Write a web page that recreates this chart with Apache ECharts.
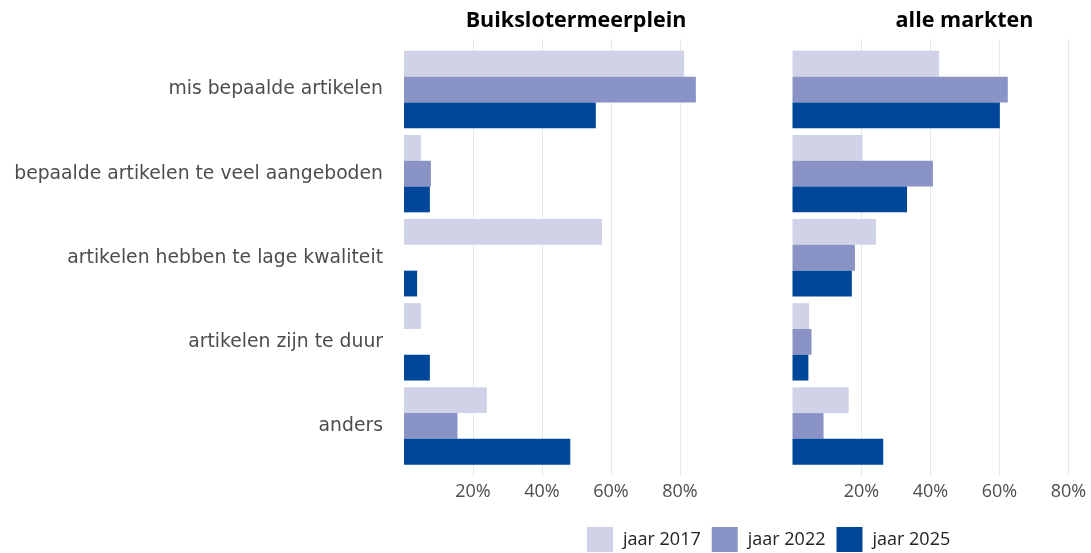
<!DOCTYPE html>
<html>
<head>
<meta charset="utf-8">
<script src="https://cdn.jsdelivr.net/npm/echarts@6/dist/echarts.min.js"></script>
<style>
  html, body { margin: 0; padding: 0; background: #fff; }
  #chart { width: 1091px; height: 553px; }
</style>
</head>
<body>
<div id="chart"></div>
<script>
  const categories = [
    "mis bepaalde artikelen",
    "bepaalde artikelen te veel aangeboden",
    "artikelen hebben te lage kwaliteit",
    "artikelen zijn te duur",
    "anders",
  ];
  const years = ["jaar 2017", "jaar 2022", "jaar 2025"];
  const panelTitles = ["Buikslotermeerplein", "alle markten"];

  // percentages, Buikslotermeerplein
  const buik2017 = [81.2, 4.9, 57.4, 4.9, 24.0];
  const buik2022 = [84.6, 7.8, 0, 0, 15.5];
  const buik2025 = [55.6, 7.5, 3.8, 7.5, 48.2];

  // percentages, alle markten
  const alle2017 = [42.5, 20.3, 24.2, 4.8, 16.3];
  const alle2022 = [62.4, 40.7, 18.1, 5.5, 9.0];
  const alle2025 = [60.1, 33.2, 17.2, 4.6, 26.3];

  const COLORS = ["#d0d3e8", "#8a93c6", "#004699"];
  const FONT = "Open Sans";
  const AXIS_MAX = 86;

  const panels = [
    { left: 404, values: [buik2017, buik2022, buik2025] },
    { left: 792.5, values: [alle2017, alle2022, alle2025] },
  ];
  const plotWidth = AXIS_MAX * 3.45;

  const grid = [];
  const xAxis = [];
  const yAxis = [];
  const series = [];

  panels.forEach((panel, p) => {
    // bar grid
    grid.push({ left: panel.left, top: 47.5, width: plotWidth, height: 420.5 });
    xAxis.push({ gridIndex: p, type: "value", min: 0, max: AXIS_MAX, show: false });
    yAxis.push({
      gridIndex: p,
      type: "category",
      inverse: true,
      data: categories,
      axisLine: { show: false },
      axisTick: { show: false },
      axisLabel: {
        show: p === 0,
        margin: 21,
        fontFamily: "DejaVu Sans",
        fontSize: 18.8,
        color: "#4d4d4d",
      },
    });
    panel.values.forEach((vals, i) => {
      series.push({
        name: years[i],
        type: "bar",
        xAxisIndex: p,
        yAxisIndex: p,
        data: vals,
        barGap: "0%",
        barCategoryGap: "8%",
        itemStyle: { color: COLORS[i] },
        silent: true,
      });
    });
  });

  // background grids for the vertical gridlines and tick labels
  panels.forEach((panel, p) => {
    const g = grid.length;
    grid.push({ left: panel.left, top: 39, width: plotWidth, height: 437 });
    xAxis.push({
      gridIndex: g,
      type: "value",
      min: 0,
      max: AXIS_MAX,
      interval: 20,
      axisLine: { show: false },
      axisTick: { show: false },
      splitLine: {
        show: true,
        showMinLine: false,
        showMaxLine: false,
        lineStyle: { color: "#e8e8e8", width: 1 },
      },
      axisLabel: {
        margin: 7,
        fontFamily: FONT,
        fontSize: 18,
        color: "#4d4d4d",
        showMinLabel: false,
        showMaxLabel: false,
        formatter(value) {
          return value > 0 && value % 20 === 0 ? value + "%" : "";
        },
      },
      z: 0,
    });
    yAxis.push({ gridIndex: g, type: "value", min: 0, max: 1, show: false });
  });

  const option = {
    animation: false,
    backgroundColor: "#fff",
    textStyle: { fontFamily: FONT },
    title: [
      { text: panelTitles[0], left: 571, top: 5, textAlign: "center" },
      { text: panelTitles[1], left: 959.5, top: 5, textAlign: "center" },
    ].map((t) => ({
      ...t,
      textStyle: { fontFamily: FONT, fontSize: 21.5, fontWeight: "bold", color: "#000" },
    })),
    legend: {
      data: years,
      left: 587,
      top: 527,
      icon: "rect",
      itemWidth: 26,
      itemHeight: 25,
      itemGap: 11,
      padding: 0,
      textStyle: {
        fontFamily: FONT,
        fontSize: 18,
        color: "#222",
        padding: [0, 0, 0, 5],
      },
    },
    grid,
    xAxis,
    yAxis,
    series,
  };

  const chart = echarts.init(document.getElementById("chart"), null, { renderer: "canvas" });
  chart.setOption(option);
</script>
</body>
</html>
